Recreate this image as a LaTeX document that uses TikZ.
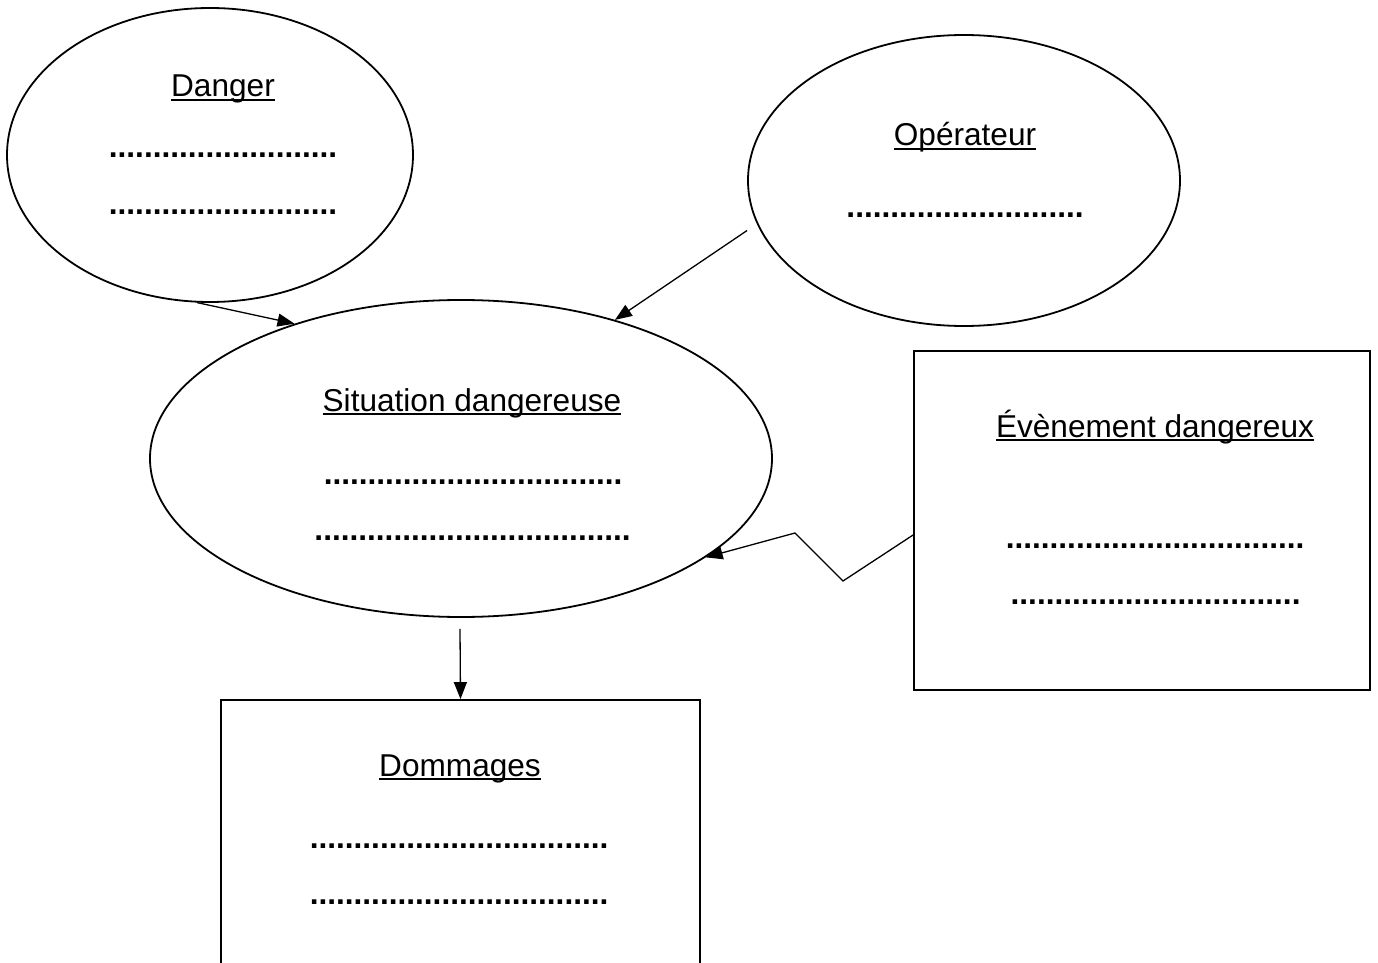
\documentclass[tikz,border=0pt]{standalone}
\usepackage{fontspec}
\setmainfont{Liberation Sans}
\usetikzlibrary{shapes.geometric,arrows.meta,calc}
\newcommand\ulx[1]{\setbox0\hbox{#1}\rlap{\rule[-2pt]{\wd0}{0.8pt}}\box0}
\begin{document}
\begin{tikzpicture}[x=0.5pt,y=-0.5pt,
 line width=0.9pt,
 ell/.style={draw,ellipse,inner sep=0pt},
 box/.style={draw,rectangle,inner sep=0pt},
 txt/.style={inner sep=0pt,anchor=base,font=\fontsize{15.8}{19}\selectfont},
 dots/.style={txt,font=\fontsize{15.8}{19}\selectfont\bfseries},
 arr/.style={-{Triangle[length=8.5pt,width=6.5pt]},line width=0.65pt}]
\useasboundingbox (0,0) rectangle (1378,963);
\clip (0,0) rectangle (1378,963);
\fill[white] (0,0) rectangle (1378,963);
% shapes
\node[ell,minimum width=203pt,minimum height=147pt] (danger) at (210,155) {};
\node[ell,minimum width=216pt,minimum height=145.5pt] (oper) at (964,180.5) {};
\node[ell,minimum width=311pt,minimum height=158.5pt] (sit) at (461,458.5) {};
\node[box,minimum width=228pt,minimum height=169.5pt] (event) at (1142,520.5) {};
\node[box,minimum width=239.5pt,minimum height=160pt] (dom) at (460.5,860) {};
% texts
\node[txt] (tdanger) at (223,97) {\ulx{Danger}};
\node[dots] (ddanger1) at (223,158) {..........................};
\node[dots] (ddanger2) at (223,214) {..........................};
\node[txt] (toper) at (965,146) {\ulx{Opérateur}};
\node[dots] (doper) at (965,218) {...........................};
\node[txt] (tsit) at (472,411) {\ulx{Situation dangereuse}};
\node[dots] (dsit1) at (473,484) {..................................};
\node[dots] (dsit2) at (472.5,540) {....................................};
\node[txt] (tevent) at (1155,437) {\ulx{Évènement dangereux}};
\node[dots] (devent1) at (1155,548) {..................................};
\node[dots] (devent2) at (1155.5,604) {.................................};
\node[txt] (tdom) at (460,776) {\ulx{Dommages}};
\node[dots] (ddom1) at (459,848) {..................................};
\node[dots] (ddom2) at (459,904) {..................................};
% connectors
\coordinate (z1) at (843,581);
\coordinate (z2) at (795,533);
\draw[arr] (danger.-95) -- (sit.141.8);
\draw[arr] ($(oper.west)+(0,50)$) -- (sit.42.5);
\draw[arr] ($(sit.south)+(-1,11)$) -- (dom.north);
\draw[arr] ($(event.west)+(0,14.5)$) -- (z1) -- (z2) -- (sit.-22.6);
\end{tikzpicture}
\end{document}
